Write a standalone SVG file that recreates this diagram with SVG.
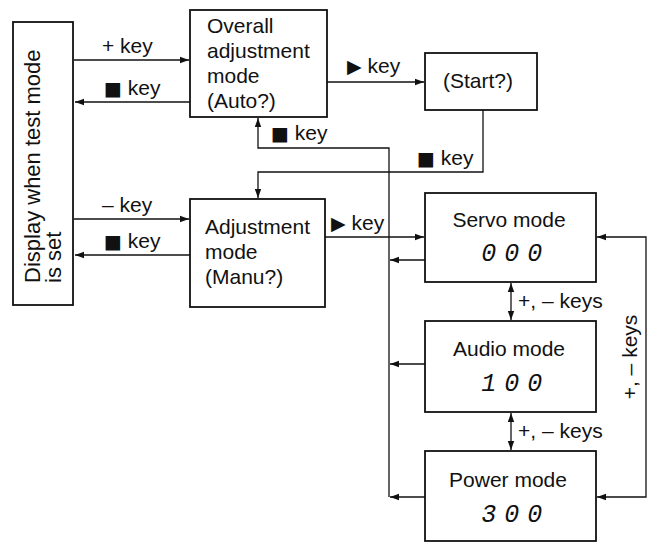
<svg xmlns="http://www.w3.org/2000/svg" width="650" height="543" viewBox="0 0 650 543">
<style>
.box{fill:#fff;stroke:#111;stroke-width:1.8}
.ln{fill:none;stroke:#111;stroke-width:1.3}
text{font-family:"Liberation Sans","DejaVu Sans",Arial,sans-serif;font-size:21px;fill:#111}
.c{text-anchor:middle}
.seg{font-family:"Liberation Mono","DejaVu Sans Mono",monospace;font-style:italic;font-size:25px;letter-spacing:-3.5px;text-anchor:middle}
.sq{font-family:"DejaVu Sans",sans-serif;font-size:19px}
</style>
<defs>
<marker id="ah" markerWidth="10" markerHeight="8" refX="9" refY="4" orient="auto" markerUnits="userSpaceOnUse">
<path d="M0,0.8 L9,4 L0,7.2 Z" fill="#111"/>
</marker>
<marker id="as" markerWidth="10" markerHeight="8" refX="1" refY="4" orient="auto" markerUnits="userSpaceOnUse">
<path d="M10,0.8 L1,4 L10,7.2 Z" fill="#111"/>
</marker>
</defs>

<g id="connectors">
<path class="ln" d="M74,60 H189" marker-end="url(#ah)"/>
<path class="ln" d="M190,102 H75" marker-end="url(#ah)"/>
<path class="ln" d="M327,82 H424" marker-end="url(#ah)"/>
<path class="ln" d="M483,110 V172 H258 V198" marker-end="url(#ah)"/>
<path class="ln" d="M389,497 V148 H258 V118" marker-end="url(#ah)"/>
<path class="ln" d="M425,260 H390" marker-end="url(#ah)"/>
<path class="ln" d="M425,364 H390" marker-end="url(#ah)"/>
<path class="ln" d="M425,497 H390" marker-end="url(#ah)"/>
<path class="ln" d="M325,237 H424" marker-end="url(#ah)"/>
<path class="ln" d="M74,219 H189" marker-end="url(#ah)"/>
<path class="ln" d="M190,255 H75" marker-end="url(#ah)"/>
<path class="ln" d="M511,283 V320" marker-start="url(#as)" marker-end="url(#ah)"/>
<path class="ln" d="M511,413 V450" marker-start="url(#as)" marker-end="url(#ah)"/>
<path class="ln" d="M597,497 H646 V237 H597" marker-start="url(#as)" marker-end="url(#ah)"/>
<text x="102" y="53">+ key</text>
<text x="104" y="95"><tspan class="sq">■</tspan> key</text>
<text x="347" y="73"><tspan class="sq">▶</tspan> key</text>
<text x="271" y="140"><tspan class="sq">■</tspan> key</text>
<text x="417" y="165"><tspan class="sq">■</tspan> key</text>
<text x="102" y="212">– key</text>
<text x="104" y="248"><tspan class="sq">■</tspan> key</text>
<text x="331" y="230"><tspan class="sq">▶</tspan> key</text>
<text x="518" y="308">+, – keys</text>
<text x="518" y="438">+, – keys</text>
<text class="c" transform="translate(637,357) rotate(-90)">+, – keys</text>
</g>

<g id="display">
<rect class="box" x="13" y="22" width="60" height="283"/>
<text style="font-size:22px" transform="translate(40,283) rotate(-90)">Display when test mode</text>
<text style="font-size:22px" transform="translate(61,283) rotate(-90)">is set</text>
</g>

<g id="overall">
<rect class="box" x="190" y="10" width="137" height="107"/>
<text x="207" y="33">Overall</text>
<text x="207" y="58">adjustment</text>
<text x="207" y="83">mode</text>
<text x="207" y="108">(Auto?)</text>
</g>

<g id="start">
<rect class="box" x="425" y="53" width="112" height="57"/>
<text class="c" x="478" y="88">(Start?)</text>
</g>

<g id="adjustment">
<rect class="box" x="190" y="199" width="135" height="108"/>
<text x="205" y="234">Adjustment</text>
<text x="205" y="259">mode</text>
<text x="205" y="284">(Manu?)</text>
</g>

<g id="servo">
<rect class="box" x="425" y="193" width="171" height="89"/>
<text class="c" x="509" y="227">Servo mode</text>
<text class="seg" x="510" y="261">0 0 0</text>
</g>

<g id="audio">
<rect class="box" x="425" y="321" width="171" height="91"/>
<text class="c" x="509" y="356">Audio mode</text>
<text class="seg" x="510" y="391">1 0 0</text>
</g>

<g id="power">
<rect class="box" x="425" y="451" width="171" height="90"/>
<text class="c" x="508" y="487">Power mode</text>
<text class="seg" x="510" y="522">3 0 0</text>
</g>
</svg>
